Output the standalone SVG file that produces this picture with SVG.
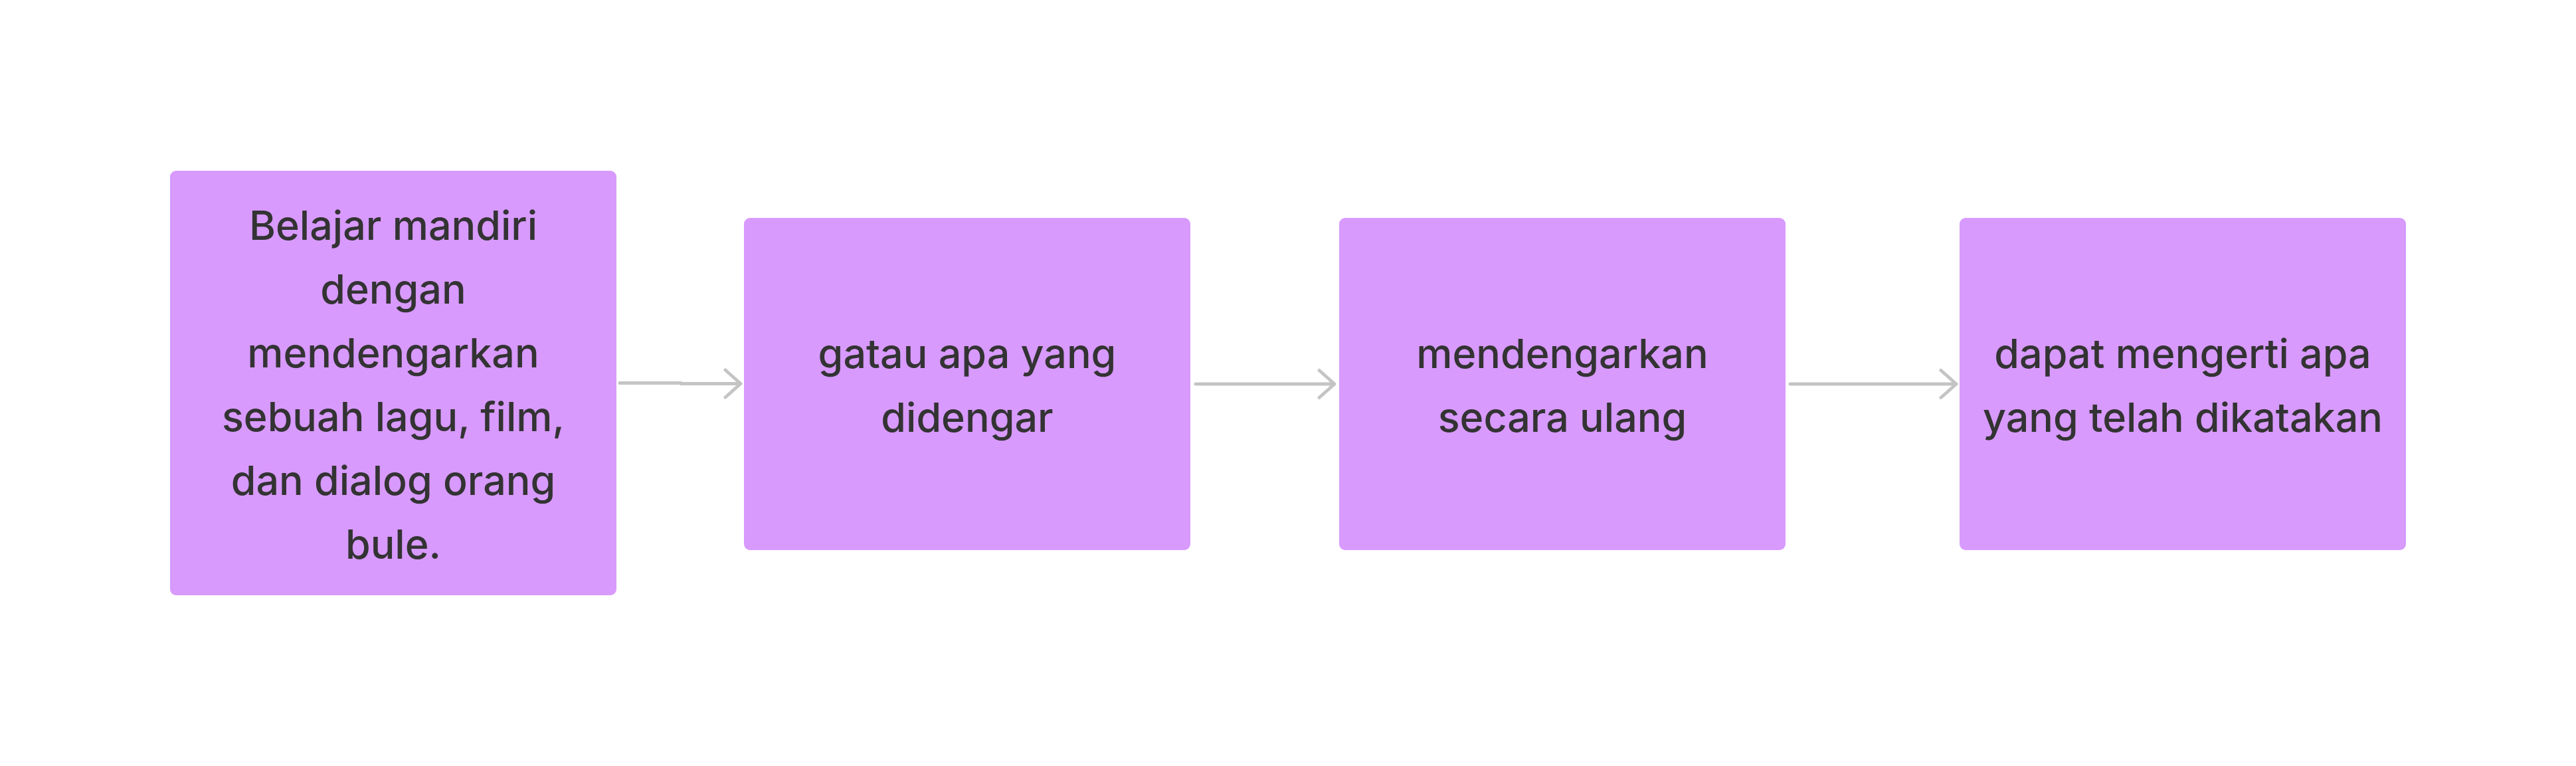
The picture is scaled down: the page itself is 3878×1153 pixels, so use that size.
<svg xmlns="http://www.w3.org/2000/svg" width="3878" height="1153" viewBox="0 0 3878 1153">
<style>
.node{fill:#D89AFD;}
.lbl{font-family:Inter,"Liberation Sans",sans-serif;font-size:61px;font-weight:500;fill:#333333;text-anchor:middle;}
.conn{fill:none;stroke:#C4C4C4;stroke-width:5;stroke-linecap:round;stroke-linejoin:round;}
</style>
<rect width="3878" height="1153" fill="#FFFFFF"/>
<g id="connectors">
<path class="conn" d="M933 576.5 L1025 576.5 M1025 577.5 L1115 577.5 M1092 557 L1115 577.5 L1092 598"/>
<path class="conn" d="M1800 578 L2009 578 M1986 557.5 L2009 578 L1986 598.5"/>
<path class="conn" d="M2695 578 L2945 578 M2922 557.5 L2945 578 L2922 598.5"/>
</g>
<g id="node1">
<rect class="node" x="256" y="257" width="672" height="639" rx="9"/>
<text class="lbl" x="592" y="361">Belajar mandiri</text>
<text class="lbl" x="592" y="457">dengan</text>
<text class="lbl" x="592" y="553">mendengarkan</text>
<text class="lbl" x="592" y="649">sebuah lagu, film,</text>
<text class="lbl" x="592" y="745">dan dialog orang</text>
<text class="lbl" x="592" y="841">bule.</text>
</g>
<g id="node2">
<rect class="node" x="1120" y="328" width="672" height="500" rx="9"/>
<text class="lbl" x="1456" y="554">gatau apa yang</text>
<text class="lbl" x="1456" y="650">didengar</text>
</g>
<g id="node3">
<rect class="node" x="2016" y="328" width="672" height="500" rx="9"/>
<text class="lbl" x="2352" y="554">mendengarkan</text>
<text class="lbl" x="2352" y="650">secara ulang</text>
</g>
<g id="node4">
<rect class="node" x="2950" y="328" width="672" height="500" rx="9"/>
<text class="lbl" x="3286" y="554">dapat mengerti apa</text>
<text class="lbl" x="3286" y="650">yang telah dikatakan</text>
</g>
</svg>
